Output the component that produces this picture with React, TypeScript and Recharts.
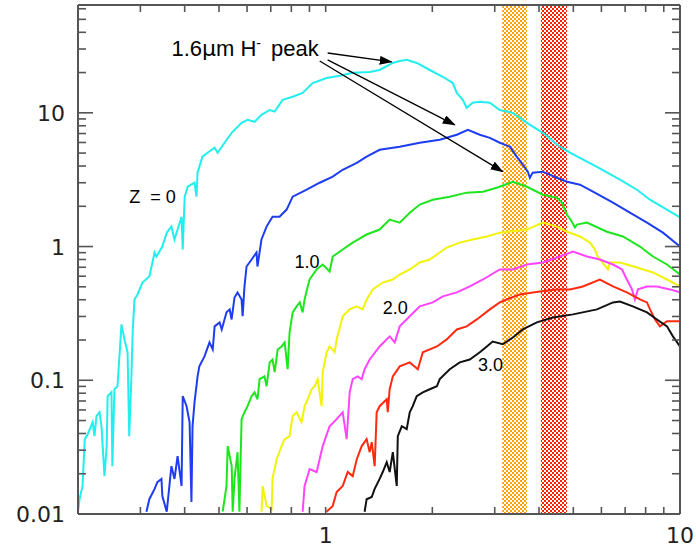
import { LineChart, Line, XAxis, YAxis, ReferenceArea, ReferenceLine, ReferenceDot } from 'recharts';

// model spectra, wavelength (um) vs flux, one list per redshift
const z00 = [[0.2,0.0104],[0.202,0.0129],[0.206,0.0162],[0.209,0.0363],[0.213,0.0395],[0.22,0.0486],[0.2226,0.0382],[0.2255,0.0539],[0.23,0.0577],[0.233,0.0453],[0.2375,0.0192],[0.241,0.0322],[0.2425,0.076],[0.2486,0.0813],[0.25,0.0228],[0.2535,0.0857],[0.2585,0.0902],[0.2653,0.262],[0.2705,0.202],[0.276,0.162],[0.279,0.0382],[0.283,0.107],[0.2855,0.24],[0.2887,0.402],[0.2944,0.438],[0.304,0.538],[0.318,0.597],[0.329,0.902],[0.333,0.842],[0.346,1.0],[0.356,1.27],[0.367,1.41],[0.3744,1.13],[0.392,1.67],[0.395,0.95],[0.4,2.36],[0.408,2.8],[0.4265,3.0],[0.432,2.36],[0.435,3.57],[0.449,4.7],[0.464,5.03],[0.486,5.48],[0.4955,5.03],[0.5185,5.97],[0.5427,7.09],[0.579,8.42],[0.602,8.86],[0.63,8.57],[0.659,9.66],[0.695,10.5],[0.718,10.2],[0.756,12.5],[0.807,13.2],[0.861,14.1],[0.919,16.7],[1.006,18.2],[1.095,18.9],[1.192,19.9],[1.331,20.2],[1.42,20.9],[1.547,23.6],[1.618,24.4],[1.693,24.9],[1.807,23.6],[1.967,20.9],[2.141,18.6],[2.285,16.7],[2.345,14.1],[2.438,12.5],[2.5,10.9],[2.6,11.9],[2.723,12.1],[2.906,11.9],[3.101,10.5],[3.375,10.0],[3.7,8.42],[4.1,7.09],[4.582,5.58],[4.891,5.03],[5.83,3.95],[6.769,3.16],[7.56,2.66],[8.228,2.24],[10,1.65]];
const z05 = [[0.312,0.0104],[0.318,0.0129],[0.329,0.0154],[0.335,0.0173],[0.344,0.0183],[0.346,0.0136],[0.356,0.0104],[0.367,0.0228],[0.3744,0.0183],[0.382,0.0271],[0.392,0.0162],[0.395,0.076],[0.405,0.064],[0.413,0.0486],[0.418,0.0123],[0.421,0.0454],[0.4265,0.0686],[0.435,0.107],[0.44,0.127],[0.455,0.151],[0.47,0.192],[0.48,0.17],[0.486,0.253],[0.502,0.271],[0.509,0.24],[0.525,0.322],[0.536,0.339],[0.5427,0.285],[0.553,0.416],[0.564,0.454],[0.579,0.402],[0.583,0.301],[0.59,0.503],[0.598,0.709],[0.618,0.8],[0.638,0.902],[0.642,0.709],[0.659,1.13],[0.681,1.41],[0.708,1.67],[0.741,1.67],[0.776,1.89],[0.807,2.36],[0.884,2.66],[0.962,3.0],[1.047,3.33],[1.117,3.75],[1.224,4.23],[1.305,4.7],[1.42,5.29],[1.618,5.58],[1.843,5.97],[2.099,6.29],[2.345,6.85],[2.52,7.46],[2.723,6.85],[2.906,6.5],[3.101,5.97],[3.31,5.58],[3.46,4.7],[3.6,4.09],[3.72,3.63],[3.77,3.27],[3.84,3.57],[4.1,3.63],[4.49,3.27],[4.8,3.05],[5.22,2.9],[5.68,2.57],[6.47,2.13],[7.22,1.79],[8.07,1.51],[8.95,1.27],[10,1.0]];
const z10 = [[0.512,0.0104],[0.525,0.0162],[0.529,0.0322],[0.543,0.0228],[0.5465,0.0104],[0.553,0.0183],[0.564,0.029],[0.571,0.0104],[0.579,0.0512],[0.59,0.0577],[0.602,0.064],[0.618,0.076],[0.63,0.0813],[0.642,0.0721],[0.651,0.102],[0.672,0.107],[0.681,0.0902],[0.695,0.136],[0.708,0.143],[0.718,0.115],[0.732,0.17],[0.751,0.179],[0.766,0.192],[0.781,0.121],[0.791,0.228],[0.807,0.322],[0.828,0.357],[0.845,0.382],[0.861,0.322],[0.872,0.402],[0.89,0.503],[0.901,0.567],[0.943,0.674],[0.981,0.734],[1.026,0.651],[1.047,0.842],[1.117,0.95],[1.192,1.07],[1.305,1.23],[1.42,1.34],[1.516,1.59],[1.618,1.51],[1.727,1.79],[1.843,2.06],[2.006,2.24],[2.24,2.36],[2.5,2.53],[2.78,2.57],[3.04,2.75],[3.375,3.05],[3.7,2.8],[4.1,2.44],[4.49,2.32],[4.64,2.13],[4.8,1.73],[4.95,1.54],[5.05,1.39],[5.12,1.46],[5.46,1.51],[6.22,1.29],[6.9,1.19],[7.709,1.0],[8.39,0.842],[9.19,0.734],[10,0.618]];
const z15 = [[0.659,0.0104],[0.664,0.0162],[0.681,0.0115],[0.704,0.0109],[0.708,0.0183],[0.727,0.0257],[0.751,0.0322],[0.766,0.0363],[0.791,0.0382],[0.807,0.0539],[0.828,0.0577],[0.855,0.0486],[0.872,0.064],[0.89,0.0721],[0.913,0.0857],[0.931,0.0902],[0.949,0.102],[0.974,0.064],[0.981,0.115],[1.006,0.162],[1.026,0.179],[1.06,0.162],[1.074,0.202],[1.117,0.301],[1.169,0.339],[1.224,0.357],[1.272,0.339],[1.305,0.402],[1.358,0.478],[1.449,0.538],[1.547,0.567],[1.618,0.618],[1.727,0.674],[1.843,0.76],[1.967,0.8],[2.06,0.872],[2.196,0.983],[2.39,1.07],[2.6,1.13],[2.85,1.19],[3.1,1.27],[3.7,1.34],[4.1,1.51],[4.49,1.41],[4.8,1.29],[5.22,1.19],[5.57,1.07],[5.75,0.95],[5.86,0.842],[6.26,0.674],[6.34,0.76],[6.77,0.76],[7.56,0.697],[8.39,0.64],[9.19,0.567],[10,0.503]];
const z20 = [[0.861,0.0104],[0.872,0.0162],[0.901,0.0217],[0.943,0.0206],[0.981,0.0322],[1.026,0.0453],[1.074,0.0512],[1.117,0.0577],[1.146,0.0363],[1.169,0.0813],[1.192,0.102],[1.231,0.107],[1.264,0.102],[1.288,0.121],[1.331,0.143],[1.42,0.179],[1.516,0.213],[1.567,0.192],[1.618,0.253],[1.727,0.301],[1.843,0.357],[2.006,0.382],[2.141,0.424],[2.345,0.454],[2.551,0.503],[2.78,0.567],[3.1,0.674],[3.375,0.674],[3.7,0.734],[4.1,0.76],[4.58,0.842],[4.99,0.918],[5.46,0.842],[5.94,0.8],[6.47,0.734],[6.86,0.674],[7.08,0.567],[7.32,0.478],[7.46,0.402],[7.61,0.478],[8.07,0.503],[8.61,0.503],[9.37,0.478],[10,0.454]];
const z25 = [[1.006,0.0104],[1.047,0.0115],[1.074,0.0146],[1.117,0.0162],[1.154,0.0206],[1.192,0.0192],[1.224,0.0257],[1.264,0.0322],[1.305,0.0363],[1.331,0.029],[1.349,0.0345],[1.375,0.0228],[1.393,0.0577],[1.42,0.064],[1.487,0.0721],[1.497,0.0577],[1.516,0.0857],[1.547,0.107],[1.618,0.127],[1.727,0.136],[1.82,0.121],[1.88,0.162],[2.06,0.179],[2.196,0.202],[2.345,0.24],[2.5,0.253],[2.67,0.285],[2.906,0.339],[3.1,0.382],[3.24,0.402],[3.53,0.438],[4.02,0.462],[4.49,0.478],[4.89,0.478],[5.32,0.503],[5.94,0.567],[6.47,0.503],[7.08,0.454],[7.71,0.402],[8.07,0.382],[8.23,0.339],[8.5,0.285],[8.78,0.253],[9.19,0.276],[10,0.276]];
const z30 = [[1.288,0.0104],[1.305,0.0129],[1.349,0.0134],[1.375,0.0154],[1.42,0.0183],[1.449,0.0206],[1.487,0.0244],[1.516,0.0206],[1.547,0.029],[1.587,0.0162],[1.598,0.0382],[1.64,0.0453],[1.693,0.0431],[1.727,0.0577],[1.761,0.064],[1.807,0.076],[1.88,0.0813],[1.967,0.0857],[2.06,0.0902],[2.099,0.102],[2.24,0.121],[2.39,0.136],[2.551,0.143],[2.723,0.162],[2.85,0.179],[2.96,0.195],[3.16,0.186],[3.375,0.209],[3.6,0.24],[3.945,0.271],[4.38,0.295],[4.99,0.311],[5.83,0.339],[6.47,0.382],[6.77,0.388],[7.36,0.357],[8.07,0.322],[8.61,0.285],[9.19,0.253],[9.55,0.213],[10,0.179]];

const seriesColors = ['#22eeee', '#1e3cf0', '#1ee61e', '#f2f20a', '#ff44ff', '#ff2a10', '#111111'];
const seriesList = [z00, z05, z10, z15, z20, z25, z30];

const xTicks = [0.3, 0.4, 0.5, 0.6, 0.7, 0.8, 0.9, 1, 2, 3, 4, 5, 6, 7, 8, 9];
const xLabels = [1, 10];
const yMajor = [0.01, 0.1, 1, 10];
const yMinor = [0.02, 0.03, 0.04, 0.05, 0.06, 0.07, 0.08, 0.09, 0.2, 0.3, 0.4, 0.5, 0.6, 0.7, 0.8, 0.9, 2, 3, 4, 5, 6, 7, 8, 9, 20, 30, 40, 50, 60];

// filter bands (um)
const bandOrange = [3.15, 3.7];
const bandRed = [4.05, 4.8];

// annotation anchors, data coords
const peakLabelAt = [0.367, 26.6];
const arrowFrom = [[1.013, 28.0], [1.013, 24.9], [0.962, 24.4]];
const arrowTo = [[1.536, 24.0], [2.314, 8.13], [3.16, 3.63]];
const zLabels = [
  { text: 'Z\u00a0 = 0', x: 0.279, y: 2.13 },
  { text: '1.0', x: 0.817, y: 0.697 },
  { text: '2.0', x: 1.449, y: 0.311 },
  { text: '3.0', x: 2.69, y: 0.117 },
];

const X_DOMAIN = [0.2, 10];
const Y_DOMAIN = [0.01, 64];
// frame corners, a hair inside the domain so the segments are never discarded
const X_IN = [0.20001, 9.9999];
const Y_IN = [0.010001, 63.999];

const toPoints = (arr: number[][]) => arr.map(([x, y]) => ({ x, y }));
const lg = Math.log10;

const AXIS = '#555555';
const tickFont = { fontFamily: 'DejaVu Sans', fontSize: 22, fill: '#222' };

const LeftLabel = ({ x, y, payload }: any) => (
  <text x={x} y={y + 8} textAnchor="end" {...tickFont}>
    {String(payload.value)}
  </text>
);

const BottomLabel = ({ x, y, payload }: any) => (
  <text x={x} y={y} textAnchor="middle" {...tickFont}>
    {String(payload.value)}
  </text>
);

// vertical frame side (left or right) with its inward tick marks.
// tick positions are interpolated in log space between the segment's scaled end points
const ySide = (dir: number) => (p: any) => {
  const x = p.x1;
  const lowPix = Math.max(p.y1, p.y2);
  const highPix = Math.min(p.y1, p.y2);
  const at = (v: number) => lowPix + ((lg(v) - lg(Y_IN[0])) / (lg(Y_IN[1]) - lg(Y_IN[0]))) * (highPix - lowPix);
  return (
    <g stroke={AXIS}>
      <line x1={x} x2={x} y1={lowPix} y2={highPix} strokeWidth={2} />
      {yMajor.map((v) => (
        <line key={`M${v}`} x1={x} x2={x + dir * 15} y1={at(v)} y2={at(v)} strokeWidth={1.6} />
      ))}
      {yMinor.map((v) => (
        <line key={`m${v}`} x1={x} x2={x + dir * 8} y1={at(v)} y2={at(v)} strokeWidth={1.6} />
      ))}
    </g>
  );
};

// horizontal frame side (bottom or top) with its inward tick marks
const xSide = (dir: number) => (p: any) => {
  const y = p.y1;
  const lowPix = Math.min(p.x1, p.x2);
  const highPix = Math.max(p.x1, p.x2);
  const at = (v: number) => lowPix + ((lg(v) - lg(X_IN[0])) / (lg(X_IN[1]) - lg(X_IN[0]))) * (highPix - lowPix);
  return (
    <g stroke={AXIS}>
      <line x1={lowPix} x2={highPix} y1={y} y2={y} strokeWidth={2} />
      {xTicks.map((v) => (
        <line key={`t${v}`} x1={at(v)} x2={at(v)} y1={y} y2={y + dir * 7} strokeWidth={1.6} />
      ))}
    </g>
  );
};

const ZLabel = ({ viewBox, text }: any) => (
  <text x={viewBox.x} y={viewBox.y} fontFamily="Liberation Sans, Arial" fontSize={18} fill="#000">
    {text}
  </text>
);

const PeakLabel = ({ viewBox }: any) => (
  <text x={viewBox.x} y={viewBox.y} fontFamily="Liberation Sans, Arial" fontSize={22} fill="#000">
    1.6
    <tspan fontFamily="DejaVu Sans">μ</tspan>
    m H
    <tspan dy={-8} fontSize={14}>-</tspan>
    <tspan dy={8} dx={4}> peak</tspan>
  </text>
);

const arrowShape = (p: any) => (
  <line x1={p.x1} y1={p.y1} x2={p.x2} y2={p.y2} stroke="#000" strokeWidth={1.3} markerEnd="url(#arrowHead)" />
);

export default function App() {
  return (
    <div style={{ position: 'absolute', left: 0, top: 0, background: '#fff' }}>
      <LineChart width={696} height={552} margin={{ top: 5, right: 16, bottom: 8, left: 8 }}>
        <defs>
          <pattern id="chkOrange" width="4" height="4" patternUnits="userSpaceOnUse">
            <rect width="4" height="4" fill="#fff" />
            <rect width="2" height="2" fill="#ffa000" />
            <rect x="2" y="2" width="2" height="2" fill="#ffa000" />
          </pattern>
          <pattern id="chkRed" width="4" height="4" patternUnits="userSpaceOnUse">
            <rect width="4" height="4" fill="#fff" />
            <rect width="2" height="2" fill="#ff2000" />
            <rect x="2" y="2" width="2" height="2" fill="#ff2000" />
          </pattern>
          <marker id="arrowHead" markerWidth="13" markerHeight="9" refX="12" refY="4.5" orient="auto" markerUnits="userSpaceOnUse">
            <path d="M0,0 L13,4.5 L0,9 z" fill="#000" />
          </marker>
        </defs>

        <XAxis
          dataKey="x"
          type="number"
          scale="log"
          domain={X_DOMAIN}
          allowDataOverflow
          ticks={xLabels}
          interval={0}
          height={30}
          tickSize={0}
          tickMargin={29}
          tickLine={false}
          axisLine={false}
          tick={<BottomLabel />}
        />
        <YAxis
          dataKey="y"
          type="number"
          scale="log"
          domain={Y_DOMAIN}
          allowDataOverflow
          ticks={yMajor}
          interval={0}
          width={70}
          tickSize={0}
          tickMargin={13}
          tickLine={false}
          axisLine={false}
          tick={<LeftLabel />}
        />

        <ReferenceArea x1={bandOrange[0]} x2={bandOrange[1]} fill="url(#chkOrange)" fillOpacity={1} stroke="none" />
        <ReferenceArea x1={bandRed[0]} x2={bandRed[1]} fill="url(#chkRed)" fillOpacity={1} stroke="none" />

        {seriesList.map((s, i) => (
          <Line
            key={i}
            data={toPoints(s)}
            dataKey="y"
            type="linear"
            stroke={seriesColors[i]}
            strokeWidth={2}
            dot={false}
            activeDot={false}
            isAnimationActive={false}
          />
        ))}

        {/* frame with inward ticks: left, right, bottom, top */}
        <ReferenceLine segment={[{ x: X_IN[0], y: Y_IN[0] }, { x: X_IN[0], y: Y_IN[1] }]} shape={ySide(1)} />
        <ReferenceLine segment={[{ x: X_IN[1], y: Y_IN[0] }, { x: X_IN[1], y: Y_IN[1] }]} shape={ySide(-1)} />
        <ReferenceLine segment={[{ x: X_IN[0], y: Y_IN[0] }, { x: X_IN[1], y: Y_IN[0] }]} shape={xSide(-1)} />
        <ReferenceLine segment={[{ x: X_IN[0], y: Y_IN[1] }, { x: X_IN[1], y: Y_IN[1] }]} shape={xSide(1)} />

        {arrowFrom.map((f, i) => (
          <ReferenceLine
            key={`arr-${i}`}
            segment={[{ x: f[0], y: f[1] }, { x: arrowTo[i][0], y: arrowTo[i][1] }]}
            shape={arrowShape}
          />
        ))}
        <ReferenceDot x={peakLabelAt[0]} y={peakLabelAt[1]} r={0} shape={() => <g />} label={<PeakLabel />} />
        {zLabels.map((l) => (
          <ReferenceDot key={l.text} x={l.x} y={l.y} r={0} shape={() => <g />} label={<ZLabel text={l.text} />} />
        ))}
      </LineChart>
    </div>
  );
}
